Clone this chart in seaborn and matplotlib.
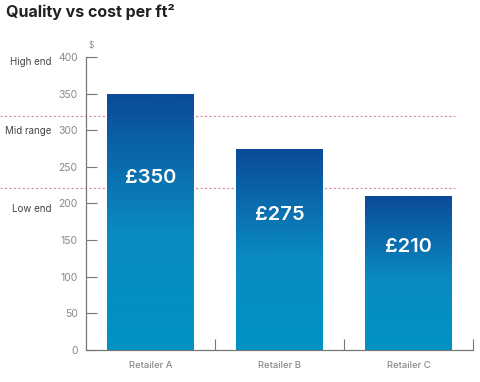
import numpy as np
import pandas as pd
import matplotlib
matplotlib.use("Agg")
import matplotlib.pyplot as plt
import matplotlib.transforms as mtransforms
from matplotlib.colors import LinearSegmentedColormap
import seaborn as sns

# data
retailers = ["Retailer A", "Retailer B", "Retailer C"]
cost = [350, 275, 210]
bar_labels = ["£350", "£275", "£210"]
band_names = ["High end", "Mid range", "Low end"]
band_label_y = [393, 299, 192]
band_limits = [320, 221]
y_ticks = [0, 50, 100, 150, 200, 250, 300, 350, 400]

sns.set_theme(style="white")
plt.rcParams["font.family"] = ["Inter", "DejaVu Sans"]

df = pd.DataFrame({"retailer": retailers, "cost": cost})

fig = plt.figure(figsize=(4.8, 3.82), dpi=100)
ax = fig.add_axes([0.179, 0.0838, 0.806, 0.767])

sns.barplot(data=df, x="retailer", y="cost", ax=ax, width=0.67,
            color="#0093c2", saturation=1, zorder=2)

# gradient fill: dark blue at top of each bar, cyan further down
cmap = LinearSegmentedColormap.from_list(
    "bar", [(0, "#0a4a98"), (0.55, "#0a8cc0"), (1, "#0093c2")])
grad = np.linspace(0, 1, 256).reshape(-1, 1)
for patch in ax.patches:
    x0, w, h = patch.get_x(), patch.get_width(), patch.get_height()
    im = ax.imshow(grad, cmap=cmap, aspect="auto",
                   extent=[x0, x0 + w, 0, h], origin="upper", zorder=3)
    im.set_clip_path(patch)
    patch.set_facecolor("none")
    patch.set_edgecolor("none")

for i, (v, lab) in enumerate(zip(cost, bar_labels)):
    ax.text(i, v * 0.67, lab, ha="center", va="center", color="white",
            fontsize=14.5, fontweight="semibold", zorder=5)

ax.set_xlim(-0.5, 2.5)
ax.set_ylim(0, 400)
ax.set_yticks(y_ticks)
ax.set_xlabel("")
ax.set_ylabel("")

for s in ["top", "right"]:
    ax.spines[s].set_visible(False)
for s in ["left", "bottom"]:
    ax.spines[s].set_color("#777777")
    ax.spines[s].set_linewidth(0.9)

ax.tick_params(axis="y", direction="in", length=8, width=0.8, color="#777777",
               labelsize=7.5, labelcolor="#888888", pad=6, left=True)
ax.tick_params(axis="x", length=0, labelsize=6.8, labelcolor="#888888", pad=8)
ax.set_xticks([0.5, 1.5, 2.5], minor=True)
ax.tick_params(axis="x", which="minor", direction="in", length=8, width=0.8,
               color="#777777", bottom=True)
for lab in ax.get_xticklabels():
    lab.set_fontweight("medium")

# quality bands
trans = mtransforms.blended_transform_factory(ax.transAxes, ax.transData)
for y in band_limits:
    ax.plot([-0.222, 0.953], [y, y], transform=trans, clip_on=False,
            color="#d9899a", linestyle=(0, (2, 2)), linewidth=0.8, zorder=1)
for name, y in zip(band_names, band_label_y):
    ax.text(-0.088, y, name, transform=trans, ha="right", va="center",
            fontsize=7, color="#444444")

ax.text(0.006, 1.025, "$", transform=ax.transAxes, fontsize=6,
        color="#888888", ha="left", va="bottom")

fig.text(0.012, 0.968, "Quality vs cost per ft²", fontsize=11.5,
         fontweight="bold", color="#222222", ha="left", va="center")

fig.savefig("out.png", dpi=100)
